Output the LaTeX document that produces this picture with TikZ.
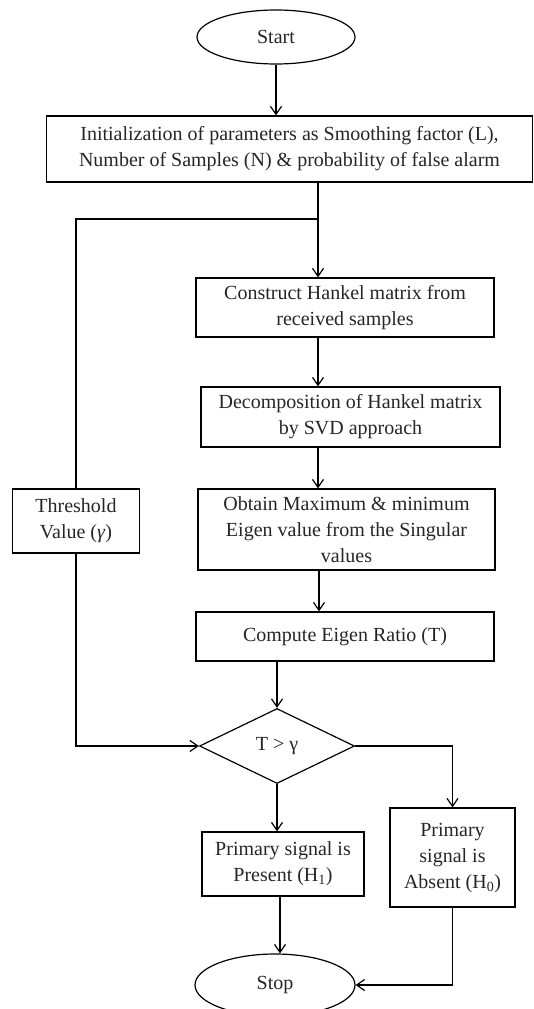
\documentclass[tikz,border=0pt]{standalone}
\usepackage{fontspec}
\setmainfont{Liberation Serif}
\usetikzlibrary{shapes.geometric,arrows.meta}
\begin{document}
\begin{tikzpicture}[x=1pt,y=-1pt,
  every node/.style={font=\fontsize{20}{26}\selectfont, text=black!85, align=center, inner sep=0pt},
  box/.style={draw, line width=1.2pt, rectangle},
  term/.style={draw, line width=1.2pt, ellipse},
  decide/.style={draw, line width=1.2pt, diamond},
  conn/.style={line width=1.2pt},
  arr/.style={conn, -{Straight Barb[length=8pt,width=11pt,line width=1.2pt]}}
]
\clip (0,0) rectangle (534,1009);
\fill[white] (0,0) rectangle (534,1009);

\node[term, minimum width=158pt, minimum height=54pt] (start) at (276,37) {Start};
\node[box, minimum width=486pt, minimum height=66pt] (init) at (289.5,149)
  {Initialization of parameters as Smoothing factor (L),\\Number of Samples (N) \& probability of false alarm};
\node[box, minimum width=298pt, minimum height=59pt] (hankel) at (345,307.5)
  {Construct Hankel matrix from\\received samples};
\node[box, minimum width=299pt, minimum height=60pt] (decomp) at (350.5,417)
  {Decomposition of Hankel matrix\\by SVD approach};
\node[box, minimum width=297pt, minimum height=81pt] (obtain) at (346.5,529.5)
  {Obtain Maximum \& minimum\\Eigen value from the Singular\\values};
\node[box, minimum width=298pt, minimum height=49pt] (compute) at (345,636.5)
  {Compute Eigen Ratio (T)};
\node[box, minimum width=127pt, minimum height=64pt] (thr) at (76,521)
  {Threshold\\Value (\textit{γ})};
\node[decide, minimum width=155pt, minimum height=75pt] (dia) at (277,746) {T > γ};
\node[box, minimum width=162pt, minimum height=64pt] (present) at (283,864)
  {Primary signal is\\Present (H\textsubscript{1})};
\node[box, minimum width=125pt, minimum height=99pt] (absent) at (452.5,857.5)
  {Primary\\signal is\\Absent (H\textsubscript{0})};
\node[term, minimum width=160pt, minimum height=62pt] (stop) at (275,985) {Stop};

\coordinate (mx) at (318,0);
\coordinate (ox) at (319,0);
\coordinate (px) at (280,0);
\coordinate (j) at (318,219);

\draw[arr] (start.south) -- (init.north -| start.south);
\draw[arr] (init.south -| mx) -- (hankel.north -| mx);
\draw[conn] (j) -| (thr.north);
\draw[arr] (hankel.south -| mx) -- (decomp.north -| mx);
\draw[arr] (decomp.south -| mx) -- (obtain.north -| mx);
\draw[arr] (obtain.south -| ox) -- (compute.north -| ox);
\draw[arr] (compute.south -| dia.north) -- (dia.north);
\draw[arr] (thr.south) |- (dia.west);
\draw[arr] (dia.east) -| (absent.north);
\draw[arr] (dia.south) -- (dia.south |- present.north);
\draw[arr] (present.south -| px) -- (px |- stop.north);
\draw[arr] (absent.south) |- (stop.east);
\end{tikzpicture}
\end{document}
